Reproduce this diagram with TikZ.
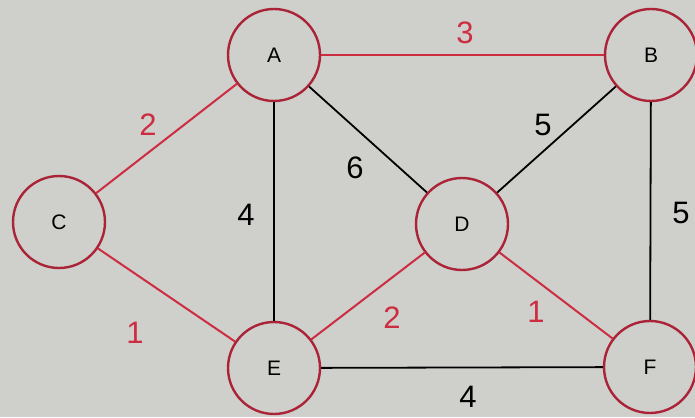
\documentclass[tikz,border=0pt]{standalone}
\usepackage{fontspec}
\setmainfont{Liberation Sans}
\definecolor{bg}{RGB}{207,207,203}
\definecolor{ered}{RGB}{205,45,65}
\definecolor{cred}{RGB}{170,35,55}
\begin{document}
\begin{tikzpicture}[x=1pt,y=-1pt,
  vert/.style={circle,draw=cred,line width=2.4pt,fill=bg,minimum size=92pt,inner sep=0pt,font=\fontsize{21}{21}\selectfont},
  redge/.style={draw=ered,line width=2pt},
  bedge/.style={draw=black,line width=1.8pt},
  rlab/.style={text=ered,font=\fontsize{31}{31}\selectfont,inner sep=0pt},
  blab/.style={text=black,font=\fontsize{31}{31}\selectfont,inner sep=0pt}]
\fill[bg] (0,0) rectangle (695,417);
\useasboundingbox (0,0) rectangle (695,417);
\node[vert] (A) at (274,55) {A};
\node[vert] (B) at (651,55) {B};
\node[vert] (C) at (59,222) {C};
\node[vert] (D) at (462,224) {D};
\node[vert] (E) at (274,368) {E};
\node[vert] (F) at (650,367) {F};
\path[redge] (A) -- (B);
\path[redge] (A) -- (C);
\path[bedge] (A) -- (D);
\path[bedge] (A) -- (E);
\path[bedge] (B) -- (D);
\path[bedge] (B) -- (F);
\path[redge] (C) -- (E);
\path[redge] (E) -- (D);
\path[redge] (D) -- (F);
\path[bedge] (E) -- (F);
\node[rlab] (w1) at (465,33) {3};
\node[rlab] (w2) at (148,125) {2};
\node[blab] (w3) at (355,168) {6};
\node[blab] (w4) at (246,215) {4};
\node[blab] (w5) at (543,125) {5};
\node[blab] (w6) at (681,213) {5};
\node[rlab] (w7) at (135,333) {1};
\node[rlab] (w8) at (392,318) {2};
\node[rlab] (w9) at (536,312) {1};
\node[blab] (w10) at (468,397) {4};
\end{tikzpicture}
\end{document}
